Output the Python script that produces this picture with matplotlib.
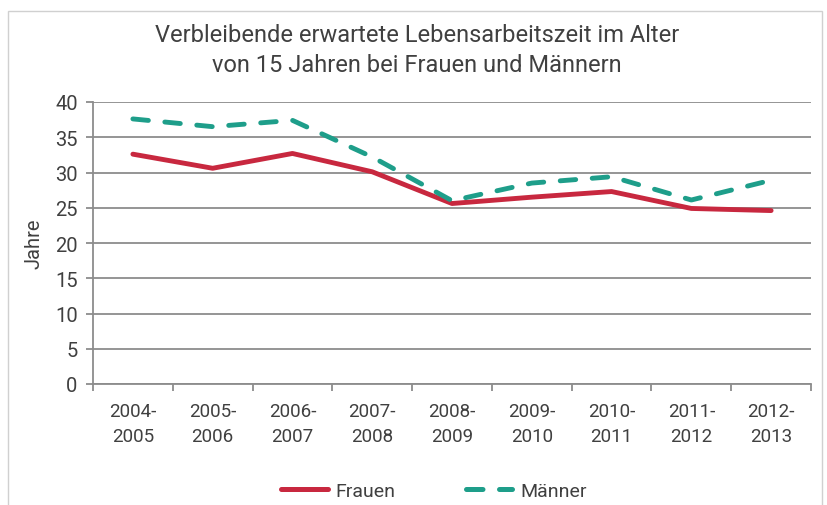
import matplotlib
matplotlib.use("Agg")
import matplotlib.pyplot as plt
from matplotlib.patches import Rectangle
from matplotlib.lines import Line2D

categories = ["2004-\n2005", "2005-\n2006", "2006-\n2007", "2007-\n2008", "2008-\n2009",
              "2009-\n2010", "2010-\n2011", "2011-\n2012", "2012-\n2013"]
frauen = [32.6, 30.6, 32.7, 30.1, 25.6, 26.5, 27.3, 24.9, 24.6]
maenner = [37.6, 36.5, 37.4, 32.2, 26.0, 28.5, 29.4, 26.1, 28.9]
yticks = [0, 5, 10, 15, 20, 25, 30, 35, 40]

plt.rcParams['font.family'] = ['Roboto', 'DejaVu Sans']
TXT = "#404040"
RED = "#C8283F"
TEAL = "#1E9E8A"
GRID = "#8C8C8C"

fig = plt.figure(figsize=(8.27, 5.06), dpi=100)
fig.patches.append(Rectangle((8/827, -0.05), (822-8)/827, 1.05 - 12/506,
                             transform=fig.transFigure, fill=False,
                             edgecolor="#D0D0D0", linewidth=1.0))

ax = fig.add_axes([93/827, 1-385/506, (811-93)/827, (385-103)/506])
x = list(range(len(categories)))
ax.plot(x, frauen, color=RED, linewidth=3.5, solid_capstyle="round", label="Frauen")
ax.plot(x, maenner, color=TEAL, linewidth=3.5, linestyle=(0, (3.2, 3.4)),
        dash_capstyle="round", label="Männer")

ax.set_xlim(-0.5, len(categories) - 0.5)
ax.set_ylim(0, 40)
ax.set_yticks(yticks)
ax.yaxis.grid(True, color=GRID, linewidth=1.3)
ax.set_axisbelow(True)
for s in ["top", "right"]:
    ax.spines[s].set_visible(False)
ax.spines["left"].set_color(GRID)
ax.spines["bottom"].set_color(GRID)
ax.spines["left"].set_linewidth(1.3)
ax.spines["bottom"].set_linewidth(1.3)

ax.set_xticks([i - 0.5 for i in range(len(categories) + 1)])
ax.set_xticklabels([])
ax.set_xticks(x, minor=True)
ax.set_xticklabels(categories, minor=True, fontsize=13.5, color=TXT, linespacing=1.5)
ax.tick_params(axis="x", which="major", length=5, color=GRID, width=1.3, direction="out")
ax.tick_params(axis="x", which="minor", length=0, pad=13)
ax.tick_params(axis="y", length=5, color=GRID, width=1.3, labelsize=14.5, labelcolor=TXT, pad=6)

ax.set_ylabel("Jahre", fontsize=14.5, color=TXT, labelpad=8)

fig.text(417/827, 1-35/506, "Verbleibende erwartete Lebensarbeitszeit im Alter",
         ha="center", va="center", fontsize=17, color=TXT)
fig.text(417/827, 1-65/506, "von 15 Jahren bei Frauen und Männern",
         ha="center", va="center", fontsize=17, color=TXT)

handles = [Line2D([], [], color=RED, linewidth=3.6, solid_capstyle="round"),
           Line2D([], [], color=TEAL, linewidth=3.6, linestyle=(0, (3.3, 3.3)),
                  dash_capstyle="round")]
fig.legend(handles, ["Frauen", "Männer"], loc="center", bbox_to_anchor=(434/827, 1-492/506),
           ncol=2, frameon=False, fontsize=14, labelcolor=TXT, handlelength=2.4,
           columnspacing=3.6, handletextpad=0.4)

fig.savefig("out.png", dpi=100)
